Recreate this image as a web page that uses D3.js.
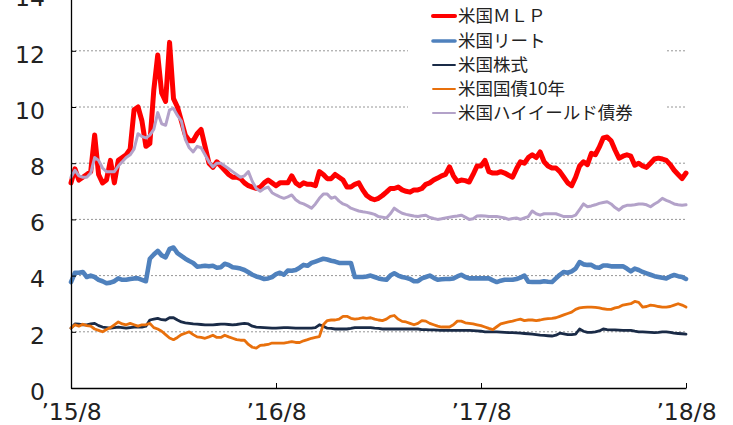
<!DOCTYPE html>
<html><head><meta charset="utf-8">
<script src="https://cdn.jsdelivr.net/npm/d3@7"></script>
<style>body{margin:0;background:#fff;overflow:hidden}</style>
</head><body>
<svg id="c" width="733" height="425"></svg>
<script>
// ---- data (weekly observations, Aug 2015 – Aug 2018) ----
const xTickIdx = [0, 52, 104, 156];
const xTickLabels = ["’15/8", "’16/8", "’17/8", "’18/8"];
const yTicks = [0, 2, 4, 6, 8, 10, 12, 14];
const seriesNames = ["米国ＭＬＰ", "米国リート", "米国株式", "米国国債10年", "米国ハイイールド債券"];

const mlp = [7.3,7.8,7.4,7.5,7.6,7.7,9.0,7.6,7.3,7.4,
8.1,7.3,8.1,8.2,8.3,8.5,9.9,10.0,9.5,8.6,
8.7,10.6,11.85,10.5,10.2,12.3,10.3,10.0,9.5,9.0,
8.8,8.8,9.05,9.2,8.6,8.0,7.85,8.05,7.9,7.75,
7.6,7.5,7.5,7.45,7.3,7.2,7.15,7.1,7.15,7.3,
7.4,7.3,7.2,7.3,7.3,7.3,7.55,7.3,7.2,7.3,
7.25,7.25,7.2,7.7,7.6,7.45,7.45,7.6,7.5,7.4,
7.15,7.15,7.25,7.3,7.05,6.85,6.75,6.7,6.75,6.85,
6.97,7.1,7.1,7.15,7.05,7.0,6.97,7.05,7.05,7.1,
7.25,7.3,7.4,7.47,7.55,7.6,7.87,7.55,7.35,7.4,
7.38,7.33,7.6,7.9,7.9,8.1,7.7,7.65,7.65,7.7,
7.65,7.57,7.5,7.8,8.05,8.0,8.2,8.3,8.2,8.4,
8.05,7.9,7.83,7.83,7.7,7.5,7.3,7.2,7.5,7.9,
8.05,7.95,8.35,8.3,8.57,8.9,8.93,8.8,8.47,8.18,
8.25,8.3,8.25,7.93,8.0,7.9,7.85,8.0,8.15,8.18,
8.15,8.1,7.95,7.75,7.6,7.45,7.65];

const reit = [3.77,4.1,4.1,4.13,3.95,4.0,3.95,3.85,3.8,3.73,
3.75,3.8,3.9,3.85,3.85,3.88,3.9,3.9,3.85,3.8,
4.6,4.75,4.88,4.72,4.65,4.95,5.0,4.8,4.7,4.6,
4.52,4.45,4.32,4.33,4.35,4.33,4.35,4.28,4.3,4.42,
4.38,4.3,4.28,4.25,4.2,4.12,4.03,3.97,3.93,3.88,
3.9,3.95,4.05,4.1,4.03,4.18,4.17,4.2,4.28,4.38,
4.35,4.45,4.5,4.55,4.6,4.57,4.53,4.5,4.45,4.45,
4.45,4.45,3.95,3.95,3.95,3.97,4.0,3.95,3.9,3.87,
3.85,4.0,4.08,4.0,3.95,3.92,3.88,3.8,3.8,3.9,
3.95,4.0,3.92,3.85,3.87,3.88,3.88,3.9,3.97,4.03,
3.95,3.9,3.9,3.9,3.9,3.9,3.9,3.83,3.77,3.82,
3.85,3.85,3.85,3.88,3.93,4.0,3.78,3.77,3.77,3.77,
3.8,3.78,3.77,3.9,4.03,4.13,4.1,4.15,4.25,4.48,
4.4,4.38,4.38,4.3,4.28,4.36,4.36,4.33,4.33,4.33,
4.33,4.25,4.15,4.25,4.2,4.13,4.08,4.03,3.98,3.95,
3.92,3.9,3.97,4.02,3.98,3.95,3.88];

const stock = [2.13,2.28,2.27,2.25,2.25,2.28,2.3,2.22,2.17,2.15,
2.13,2.15,2.17,2.15,2.13,2.15,2.17,2.17,2.17,2.2,
2.42,2.45,2.48,2.43,2.42,2.5,2.5,2.42,2.35,2.32,
2.3,2.28,2.27,2.26,2.25,2.25,2.25,2.26,2.27,2.27,
2.26,2.25,2.26,2.28,2.3,2.28,2.2,2.17,2.16,2.15,
2.14,2.13,2.13,2.14,2.15,2.15,2.14,2.13,2.13,2.13,
2.13,2.13,2.15,2.25,2.2,2.13,2.12,2.1,2.1,2.1,
2.1,2.12,2.15,2.15,2.15,2.15,2.15,2.13,2.12,2.1,
2.1,2.1,2.1,2.1,2.1,2.1,2.1,2.1,2.1,2.08,
2.08,2.07,2.07,2.06,2.05,2.05,2.05,2.05,2.05,2.05,
2.05,2.05,2.04,2.03,2.02,2.0,2.0,2.0,2.0,1.99,
1.98,1.97,1.97,1.96,1.95,1.94,1.93,1.92,1.9,1.88,
1.87,1.86,1.85,1.88,1.95,1.93,1.9,1.9,1.92,2.1,
2.02,1.98,1.98,2.0,2.03,2.1,2.08,2.07,2.07,2.06,
2.05,2.05,2.05,2.02,2.0,2.0,1.99,1.98,1.97,1.98,
2.0,2.0,1.98,1.95,1.94,1.93,1.92];

const bond10 = [2.13,2.25,2.2,2.27,2.22,2.2,2.1,2.05,2.0,2.08,
2.15,2.25,2.35,2.28,2.25,2.3,2.25,2.2,2.25,2.25,
2.3,2.15,2.1,2.02,1.9,1.78,1.72,1.8,1.9,1.95,
2.0,1.9,1.82,1.8,1.77,1.82,1.88,1.8,1.8,1.88,
1.82,1.77,1.72,1.7,1.7,1.55,1.45,1.42,1.52,1.53,
1.55,1.6,1.6,1.6,1.6,1.62,1.65,1.62,1.62,1.68,
1.72,1.77,1.8,1.83,2.25,2.4,2.42,2.42,2.45,2.55,
2.55,2.48,2.45,2.47,2.5,2.48,2.5,2.45,2.42,2.4,
2.45,2.55,2.58,2.45,2.37,2.35,2.3,2.25,2.3,2.4,
2.38,2.3,2.25,2.2,2.17,2.17,2.17,2.25,2.38,2.38,
2.32,2.3,2.28,2.25,2.22,2.17,2.12,2.08,2.18,2.28,
2.32,2.35,2.38,2.42,2.45,2.4,2.42,2.42,2.4,2.42,
2.45,2.47,2.48,2.5,2.55,2.6,2.65,2.7,2.8,2.85,
2.87,2.88,2.88,2.87,2.85,2.82,2.8,2.8,2.85,2.88,
2.95,2.98,3.0,3.08,3.05,2.88,2.9,2.95,2.93,2.9,
2.88,2.88,2.9,2.95,3.0,2.95,2.88];

const highYield = [7.5,7.75,7.55,7.5,7.5,7.65,8.2,8.1,7.83,7.7,
7.7,7.7,7.9,8.05,8.2,8.3,8.5,9.05,8.95,8.9,
9.0,9.2,9.8,9.4,9.35,9.9,9.95,9.7,9.5,8.85,
8.55,8.4,8.6,8.55,8.3,8.05,7.87,8.0,8.0,7.9,
7.8,7.7,7.6,7.5,7.55,7.7,7.35,7.1,7.0,7.1,
7.15,6.95,6.87,6.8,6.75,6.8,6.87,6.7,6.6,6.55,
6.48,6.4,6.55,6.75,6.9,6.9,6.75,6.8,6.65,6.55,
6.5,6.4,6.35,6.3,6.27,6.25,6.22,6.18,6.1,6.08,
6.05,6.2,6.4,6.3,6.22,6.18,6.15,6.12,6.1,6.13,
6.15,6.07,6.03,6.0,6.02,6.05,6.08,6.1,6.12,6.15,
6.08,6.0,6.02,6.12,6.13,6.12,6.1,6.1,6.1,6.08,
6.05,6.0,6.03,6.05,6.0,6.05,6.1,6.3,6.2,6.15,
6.2,6.2,6.2,6.2,6.15,6.1,6.1,6.1,6.15,6.35,
6.55,6.45,6.48,6.52,6.57,6.6,6.63,6.55,6.42,6.33,
6.45,6.5,6.5,6.52,6.55,6.55,6.52,6.45,6.55,6.63,
6.75,6.68,6.62,6.55,6.52,6.5,6.52];

const seriesValues = [mlp, reit, stock, bond10, highYield];
const colors = ["#ff0000", "#4f81bd", "#1a2b47", "#e8700c", "#b3a2c9"];
const widths = [5, 4.6, 2.8, 2.8, 3];

// ---- drawing ----
const svg = d3.select("#c");
const L = 71, R = 686, B = 388;
const x = d3.scaleLinear().domain([0, 156]).range([L, R]);
const y = d3.scaleLinear().domain([0, 14]).range([B, B - 28.1 * 14]);

// gridlines
svg.append("g").selectAll("line").data(yTicks.filter(v => v > 0)).join("line")
  .attr("x1", L).attr("x2", R).attr("y1", d => y(d)).attr("y2", d => y(d))
  .attr("stroke", "#8a8a8a").attr("stroke-width", 0.9).attr("stroke-dasharray", "2,2");

// series lines
const line = d3.line().x((d, i) => x(i)).y(d => y(d)).curve(d3.curveLinear);
seriesValues.forEach((vals, k) => {
  svg.append("path").datum(vals).attr("d", line)
    .attr("fill", "none").attr("stroke", colors[k]).attr("stroke-width", widths[k])
    .attr("stroke-linejoin", "round").attr("stroke-linecap", "round");
});

// axes
const xAxis = d3.axisBottom(x).tickValues(xTickIdx).tickFormat((d, i) => xTickLabels[i])
  .tickSizeInner(-5).tickSizeOuter(0).tickPadding(15);
const gx = svg.append("g").attr("transform", `translate(0,${B})`).call(xAxis);
gx.select(".domain").attr("stroke", "#000").attr("stroke-width", 1.3);
gx.selectAll(".tick line").attr("stroke", "#000").attr("stroke-width", 1);
gx.selectAll(".tick text").attr("font-family", "DejaVu Sans").attr("font-size", 23.5).attr("fill", "#222");

const yAxis = d3.axisLeft(y).tickValues(yTicks).tickFormat(d3.format("d"))
  .tickSizeInner(-5).tickSizeOuter(0).tickPadding(26);
const gy = svg.append("g").attr("transform", `translate(${L},0)`).call(yAxis);
gy.select(".domain").attr("stroke", "#000").attr("stroke-width", 1.3);
gy.selectAll(".tick line").attr("stroke", "#000").attr("stroke-width", 1);
gy.selectAll(".tick text").attr("font-family", "DejaVu Sans").attr("font-size", 23.5).attr("fill", "#222").attr("dy", "0.48em");

// legend
const lg = svg.append("g");
lg.append("rect").attr("x", 408).attr("y", 0).attr("width", 258).attr("height", 124).attr("fill", "#fff");
const rowY = [16, 41, 65, 89, 113];
seriesNames.forEach((name, k) => {
  lg.append("line").attr("x1", 433).attr("x2", 455).attr("y1", rowY[k]).attr("y2", rowY[k])
    .attr("stroke", colors[k]).attr("stroke-width", widths[k] - 1).attr("stroke-linecap", "round");
  lg.append("text").attr("x", 458).attr("y", rowY[k]).attr("dy", "0.36em")
    .attr("font-family", "'Noto Sans CJK JP'").attr("font-size", 17.5).attr("fill", "#222")
    .text(name);
});
</script>
</body></html>
